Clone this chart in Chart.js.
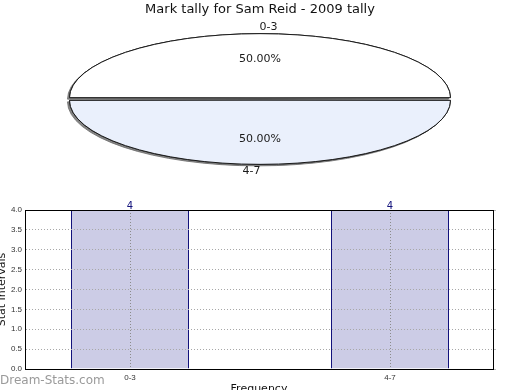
<!DOCTYPE html>
<html>
<head>
<meta charset="utf-8">
<script src="https://cdn.jsdelivr.net/npm/chart.js@4/dist/chart.umd.min.js"></script>
<style>
  html, body { margin: 0; padding: 0; background: #ffffff; }
  #wrap { position: relative; width: 520px; height: 390px; overflow: hidden; }
  canvas { position: absolute; left: 0; top: 0; }
  #pie { pointer-events: none; }
</style>
</head>
<body>
<div id="wrap">
  <canvas id="bar" width="520" height="390"></canvas>
  <canvas id="pie" width="520" height="390"></canvas>
</div>
<script>
// ---- data ----
const titleText = 'Mark tally for Sam Reid - 2009 tally';
const categories = ['0-3', '4-7'];
const tallies = [4, 4];
const yTicks = [0, 0.5, 1, 1.5, 2, 2.5, 3, 3.5, 4];
const yAxisTitle = 'Stat Intervals';
const xAxisTitle = 'Frequency';
const watermark = 'Dream-Stats.com';

// ---- styles ----
const FONT = 'DejaVu Sans';
const pieColors = ['#ffffff', '#eaf0fc'];
const barFill = '#ccccE6';
const barBorder = '#12127c';

// pie ellipse geometry (screen)
const PIE_CX = 260, PIE_CY = 99, PIE_R = 187, PIE_K = 63 / 187, PIE_OFFSET = 14;

let savedStroke = null;
const ellipsePlugin = {
  id: 'ellipse',
  beforeDatasetsDraw(chart) {
    const ctx = chart.ctx;
    const meta = chart.getDatasetMeta(0);
    const arc = meta.data[0];
    const base = ctx.getTransform();
    ctx.save();
    ctx.translate(PIE_CX, PIE_CY);
    ctx.scale(1, PIE_K);
    ctx.translate(-arc.x, -arc.y);
    // stroke with unscaled line width
    savedStroke = ctx.stroke;
    const orig = savedStroke;
    ctx.stroke = function () {
      this.save();
      this.setTransform(base);
      orig.call(this);
      this.restore();
    };
    // shadow pass
    ctx.save();
    ctx.shadowColor = 'rgba(110,110,110,0.85)';
    ctx.shadowOffsetX = -2;
    ctx.shadowOffsetY = 1.5;
    ctx.shadowBlur = 0;
    meta.data.forEach(a => a.draw(ctx));
    ctx.restore();
  },
  afterDatasetsDraw(chart) {
    const ctx = chart.ctx;
    ctx.restore();
    if (savedStroke) { delete ctx.stroke; savedStroke = null; }
    const meta = chart.getDatasetMeta(0);
    const data = chart.data.datasets[0].data;
    const total = data.reduce((a, b) => a + b, 0);
    ctx.save();
    ctx.fillStyle = '#1a1a1a';
    ctx.font = '11px "' + FONT + '"';
    ctx.textAlign = 'center';
    ctx.textBaseline = 'middle';
    meta.data.forEach((a, i) => {
      const p = a.getProps(['x', 'y', 'startAngle', 'endAngle', 'outerRadius', 'options'], true);
      const mid = (p.startAngle + p.endAngle) / 2;
      const off = (p.options.offset || 0) / 2;
      const dIn = p.outerRadius * 0.6 + off;
      const xIn = PIE_CX + Math.cos(mid) * dIn;
      const yIn = PIE_CY + PIE_K * Math.sin(mid) * dIn;
      ctx.fillText((data[i] / total * 100).toFixed(2) + '%', xIn, yIn);
      const dOut = p.outerRadius + off;
      const s = Math.sin(mid) < 0 ? -1 : 1;
      const xOut = PIE_CX + Math.cos(mid) * dOut - s * 8.5;
      const yOut = PIE_CY + PIE_K * Math.sin(mid) * dOut + s * 7;
      ctx.fillText(chart.data.labels[i], xOut, yOut);
    });
    ctx.restore();
  }
};

new Chart(document.getElementById('pie'), {
  type: 'pie',
  data: {
    labels: categories,
    datasets: [{
      data: tallies,
      backgroundColor: pieColors,
      borderColor: '#1a1a1a',
      borderWidth: 1,
      offset: PIE_OFFSET
    }]
  },
  options: {
    responsive: false,
    animation: false,
    events: [],
    rotation: -90,
    radius: PIE_R,
    layout: { padding: 0 },
    plugins: {
      legend: { display: false },
      tooltip: { enabled: false },
      title: {
        display: true,
        text: titleText,
        color: '#111111',
        font: { family: FONT, size: 13, weight: 'normal' },
        padding: { top: 2, bottom: 0 }
      }
    }
  },
  plugins: [ellipsePlugin]
});

const barExtras = {
  id: 'barExtras',
  afterDatasetsDraw(chart) {
    const ctx = chart.ctx;
    const meta = chart.getDatasetMeta(0);
    ctx.save();
    ctx.fillStyle = barBorder;
    ctx.font = '10px "' + FONT + '"';
    ctx.textAlign = 'center';
    ctx.textBaseline = 'alphabetic';
    meta.data.forEach((b, i) => {
      ctx.fillText(String(tallies[i]), b.x, b.y - 1);
    });
    ctx.restore();
  },
  afterDraw(chart) {
    const ctx = chart.ctx;
    ctx.save();
    ctx.fillStyle = '#9a9a9a';
    ctx.font = '12px "' + FONT + '"';
    ctx.textAlign = 'left';
    ctx.textBaseline = 'alphabetic';
    ctx.fillText(watermark, 0, 384);
    ctx.restore();
  }
};

new Chart(document.getElementById('bar'), {
  type: 'bar',
  data: {
    datasets: [{
      data: categories.map((c, i) => ({ x: i, y: tallies[i] })),
      backgroundColor: barFill,
      borderColor: barBorder,
      borderWidth: { left: 1, right: 1, top: 1, bottom: 0 },
      borderSkipped: 'bottom',
      barPercentage: 118 / 260,
      categoryPercentage: 1
    }]
  },
  options: {
    responsive: false,
    animation: false,
    events: [],
    layout: { padding: { top: 210, left: 0, right: 24, bottom: 0 } },
    plugins: { legend: { display: false }, tooltip: { enabled: false }, title: { display: false } },
    scales: {
      x: {
        type: 'linear',
        position: 'bottom',
        offset: false,
        min: -105 / 260,
        max: 1 + 103 / 260,
        afterFit(s) { s.height = 21; },
        afterBuildTicks(s) { s.ticks = categories.map((c, i) => ({ value: i })); },
        ticks: {
          callback: (v) => categories[v],
          font: { family: 'Liberation Sans', size: 8 },
          color: '#333333',
          padding: 4,
          maxRotation: 0
        },
        grid: {
          offset: false,
          color: '#8c8c8c',
          lineWidth: 1,
          drawTicks: false,
          z: 1
        },
        border: { color: '#000000', width: 1, dash: [1, 2], z: 2 },
        title: {
          display: true,
          text: xAxisTitle,
          color: '#111111',
          font: { family: FONT, size: 11 },
          padding: { top: 0, bottom: -5.6 }
        }
      },
      y: {
        position: 'left',
        min: 0,
        max: 4,
        afterFit(s) { s.width = 25; },
        afterBuildTicks(s) { s.ticks = yTicks.map(v => ({ value: v })); },
        ticks: {
          callback: (v) => Number(v).toFixed(1),
          font: { family: 'Liberation Sans', size: 8 },
          color: '#333333',
          padding: 3
        },
        grid: {
          color: '#a8a8a8',
          lineWidth: 1,
          drawTicks: false,
          z: 1
        },
        border: { color: '#000000', width: 1, dash: [1, 2], z: 2 },
        title: {
          display: true,
          text: yAxisTitle,
          color: '#111111',
          font: { family: FONT, size: 11 },
          padding: { top: -4.6, bottom: 0 }
        }
      },
      y2: {
        position: 'right',
        min: 0,
        max: 4,
        afterFit(s) { s.width = 3; },
        afterBuildTicks(s) { s.ticks = yTicks.map(v => ({ value: v })); },
        ticks: { display: false },
        grid: { drawOnChartArea: false, drawTicks: true, tickLength: 3, color: '#bbbbbb' },
        border: { color: '#000000', width: 1, z: 2 }
      },
      x2: {
        type: 'linear',
        position: 'top',
        offset: false,
        min: 0,
        max: 1,
        afterFit(s) { s.height = 0; },
        ticks: { display: false },
        grid: { display: false, drawTicks: false },
        border: { display: true, color: '#000000', width: 1, z: 2 }
      }
    }
  },
  plugins: [barExtras]
});
</script>
</body>
</html>
